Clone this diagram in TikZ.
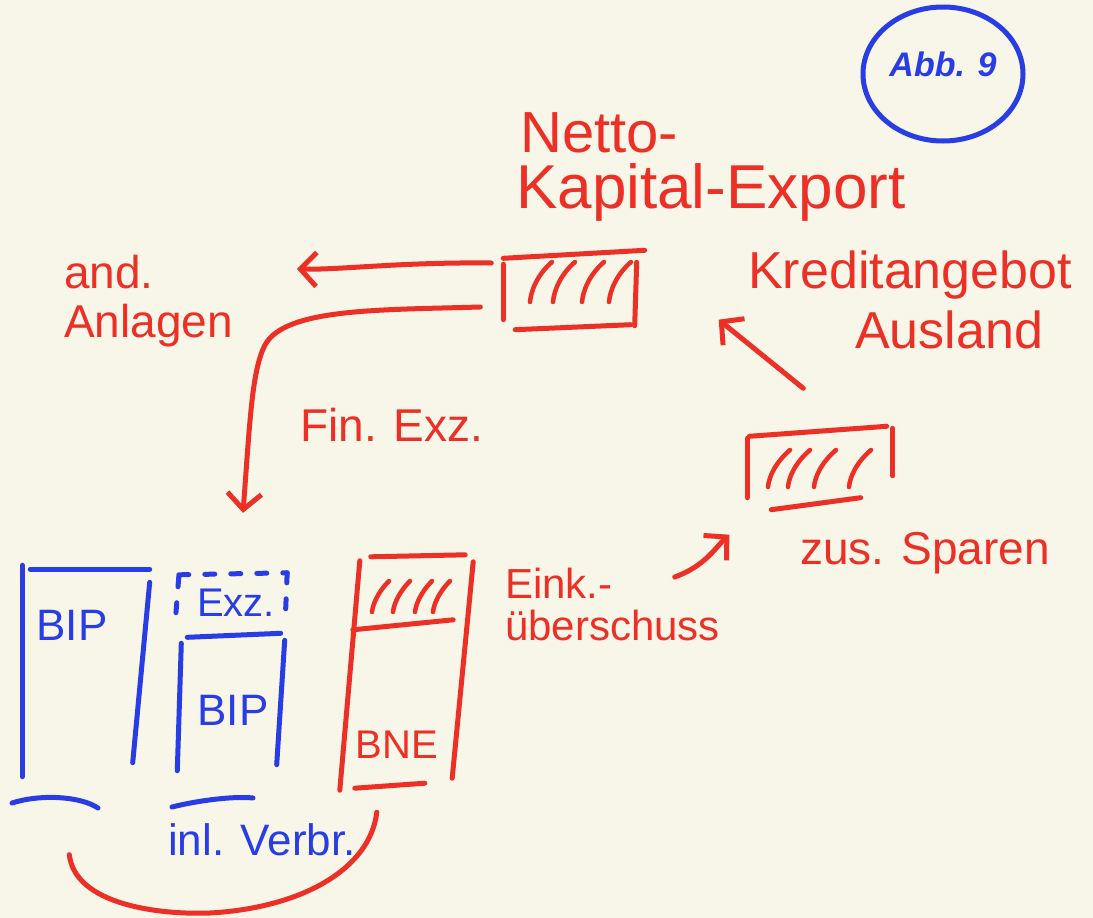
\documentclass[tikz,border=0pt]{standalone}
\usepackage{fontspec}
\setmainfont{Liberation Sans}
\usetikzlibrary{arrows.meta,calc}
\definecolor{pen}{RGB}{236,48,38}
\definecolor{ink}{RGB}{40,62,228}
\definecolor{paper}{RGB}{248,245,233}
\tikzset{
  redpen/.style={draw=pen, line width=5pt, line cap=round, line join=round},
  bluepen/.style={draw=ink, line width=5pt, line cap=round, line join=round},
  hatch/.style={draw=pen, line width=4.5pt, line cap=round},
  redtext/.style={text=pen, inner sep=0pt},
  bluetext/.style={text=ink, inner sep=0pt},
  box/.style={draw=none, inner sep=0pt},
  tip/.style={-{Straight Barb[length=16pt,width=34pt,line width=5pt]}},
}
\begin{document}
\begin{tikzpicture}[x=1pt,y=-1pt]
\fill[paper] (0,0) rectangle (1093,918);
\useasboundingbox (0,0) rectangle (1093,918);

% circle label
\node[box, minimum width=160pt, minimum height=135pt] (abb) at (943,74) {};
\draw[bluepen] (abb.center) ellipse [x radius=80pt, y radius=67pt];
\node[bluetext, font=\fontsize{34}{38}\selectfont\itshape\bfseries] (abbt) at (943,64) {Abb. 9};

% titles
\node[redtext, anchor=west, font=\fontsize{58}{64}\selectfont] (netto) at (520,133) {Netto-};
\node[redtext, anchor=west, font=\fontsize{62}{68}\selectfont] (kapex) at (516,192) {Kapital-Export};
\node[redtext, anchor=west, font=\fontsize{46}{50}\selectfont] (and) at (64,272) {and.};
\node[redtext, anchor=west, font=\fontsize{46}{50}\selectfont] (anl) at (64,326) {Anlagen};
\node[redtext, anchor=west, font=\fontsize{52}{56}\selectfont] (kred) at (748,275) {Kreditangebot};
\node[redtext, anchor=west, font=\fontsize{52}{56}\selectfont] (ausl) at (855,330) {Ausland};
\node[redtext, anchor=west, font=\fontsize{46}{50}\selectfont] (finexz) at (300,425) {Fin. Exz.};
\node[redtext, anchor=west, font=\fontsize{46}{50}\selectfont] (zus) at (800,553) {zus. Sparen};
\node[redtext, anchor=west, font=\fontsize{42}{46}\selectfont] (eink) at (505,583) {Eink.-};
\node[redtext, anchor=west, font=\fontsize{42}{46}\selectfont] (uebers) at (505,625) {überschuss};

% top hatched box
\node[box, minimum width=137pt, minimum height=75pt] (topbox) at (572,290) {};
\draw[redpen] ($(topbox.north west)+(0,6)$) -- ($(topbox.north east)+(4,-2)$);
\draw[redpen] ($(topbox.north west)+(0,12)$) -- ($(topbox.south west)+(0,-8)$);
\draw[redpen] ($(topbox.north east)+(-4,10)$) -- ($(topbox.south east)+(-6,-2)$);
\draw[redpen] ($(topbox.south west)+(12,2)$) -- ($(topbox.south east)+(-10,-3)$);
\foreach \x in {530,553,582,609}
  \draw[hatch] (\x,302) .. controls (\x+1,290) and (\x+8,274) .. (\x+22,262);

% right hatched box
\node[box, minimum width=145pt, minimum height=73pt] (rbox) at (820,467) {};
\draw[redpen] ($(rbox.north west)+(2,6)$) -- ($(rbox.north east)+(-6,-4)$);
\draw[redpen] ($(rbox.north west)+(0,8)$) -- ($(rbox.south west)+(0,-6)$);
\draw[redpen] ($(rbox.north east)+(0,-2)$) -- ($(rbox.south east)+(0,-28)$);
\draw[redpen] ($(rbox.south west)+(24,6)$) -- ($(rbox.south east)+(-32,-6)$);
\foreach \x in {768,788,814,849}
  \draw[hatch] (\x,487) .. controls (\x+1,476) and (\x+8,462) .. (\x+22,450);

% arrows at top
\coordinate (lftstart) at ($(topbox.west)+(-12,-27)$);
\coordinate (lftend) at (297,269);
\draw[redpen, tip] (lftstart) .. controls (400,262) and (340,270) .. (lftend);

\coordinate (cstart) at ($(topbox.west)+(-23,17)$);
\node[box, minimum width=110pt, minimum height=54pt] (exz) at (234,600) {};
\draw[redpen, tip] (cstart) .. controls (380,310) and (285,308) .. (265,345)
  .. controls (252,370) and (250,420) .. ($(exz.north)+(9,-60)$);

\coordinate (upstart) at ($(rbox.north west)+(56,-42)$);
\coordinate (upend) at ($(topbox.south east)+(78,-8)$);
\draw[redpen, tip] (upstart) -- (upend);

\coordinate (urstart) at ($(eink.east)+(62,-6)$);
\coordinate (urend) at ($(rbox.south west)+(-18,31)$);
\draw[redpen, tip] (urstart) .. controls (705,566) and (715,548) .. (urend);

% bottom: box 1 (BIP)
\node[box, minimum width=125pt, minimum height=205pt] (bip1) at (85,672) {};
\draw[bluepen] ($(bip1.north west)+(8,0)$) -- ($(bip1.north east)+(2,0)$);
\draw[bluepen] ($(bip1.north west)+(0,-4)$) -- ($(bip1.south west)+(0,2)$);
\draw[bluepen] ($(bip1.north east)+(2,13)$) -- ($(bip1.south east)+(-15,-12)$);
\node[bluetext, font=\fontsize{44}{48}\selectfont] (bip1t) at (72,625) {BIP};
\draw[bluepen] (12,803) .. controls (40,794) and (80,796) .. (98,808);

% dashed box (Exz.)
\draw[bluepen, dash pattern=on 10pt off 16pt] ($(exz.north west)+(0,2)$) -- ($(exz.north east)+(-2,0)$);
\draw[bluepen, dash pattern=on 10pt off 16pt] ($(exz.north west)+(0,4)$) -- ($(exz.south west)+(-4,0)$);
\draw[bluepen, dash pattern=on 10pt off 16pt] ($(exz.north east)+(-2,0)$) -- ($(exz.south east)+(-4,-7)$);
\node[bluetext, font=\fontsize{40}{44}\selectfont] (exzt) at (236,603) {Exz.};

% box 2 (BIP)
\node[box, minimum width=105pt, minimum height=135pt] (bip2) at (232,705) {};
\draw[bluepen] ($(bip2.north west)+(8,0)$) -- ($(bip2.north east)+(-4,-4)$);
\draw[bluepen] ($(bip2.north west)+(2,6)$) -- ($(bip2.south west)+(-2,-2)$);
\draw[bluepen] ($(bip2.north east)+(0,3)$) -- ($(bip2.south east)+(-8,-8)$);
\node[bluetext, font=\fontsize{44}{48}\selectfont] (bip2t) at (233,710) {BIP};
\draw[bluepen] (172,807) .. controls (200,800) and (235,796) .. (253,798);
\node[bluetext, font=\fontsize{44}{48}\selectfont, anchor=west] (inl) at (168,840) {inl. Verbr.};

% box 3 (BNE)
\node[box, minimum width=122pt, minimum height=230pt] (bne) at (406,672) {};
\draw[redpen] ($(bne.north west)+(26,0)$) -- ($(bne.north east)+(-2,-2)$);
\draw[redpen] ($(bne.north west)+(15,4)$) -- ($(bne.south west)+(-5,3)$);
\draw[redpen] ($(bne.north east)+(6,5)$) -- ($(bne.south east)+(-15,-9)$);
\draw[redpen] ($(bne.north west)+(8,73)$) -- ($(bne.north east)+(-14,63)$);
\foreach \x in {372,393,415,433}
  \draw[hatch] (\x,612) .. controls (\x+1,603) and (\x+7,591) .. (\x+17,581);
\node[redtext, font=\fontsize{40}{44}\selectfont] (bnet) at (397,745) {BNE};
\draw[redpen] ($(bne.south west)+(10,1)$) -- ($(bne.south west)+(80,-4)$);

% bottom arc
\coordinate (arcL) at ($(bip1.south west)+(47,80)$);
\coordinate (arcR) at ($(bne.south west)+(32,25)$);
\draw[redpen] (arcL) .. controls (75,905) and (160,915) .. (210,913)
  .. controls (300,908) and (370,870) .. (arcR);
\end{tikzpicture}
\end{document}
